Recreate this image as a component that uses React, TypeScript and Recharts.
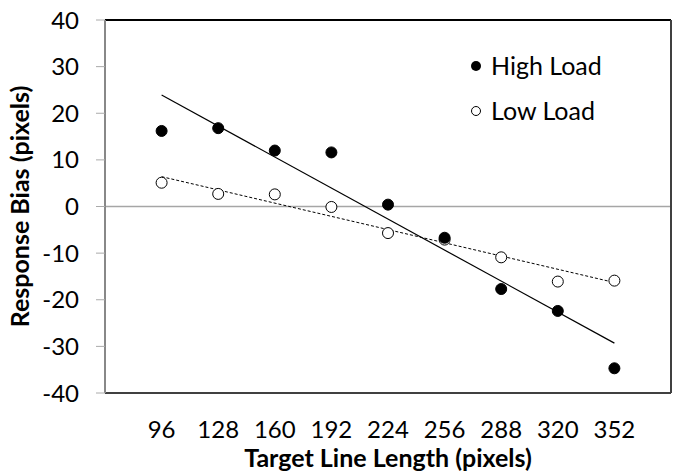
import React from "react";
import {
  ComposedChart,
  Scatter,
  XAxis,
  YAxis,
  ReferenceLine,
  Label,
} from "recharts";

const lengths = [96, 128, 160, 192, 224, 256, 288, 320, 352];
const highLoad = [16.2, 16.8, 12.0, 11.6, 0.4, -6.7, -17.7, -22.4, -34.7];
const lowLoad = [5.1, 2.7, 2.6, -0.1, -5.7, -7.1, -10.9, -16.1, -15.9];
const trendX = [96, 352];
const highTrend = [23.9, -29.3];
const lowTrend = [6.4, -16.3];
const yTicks = [-40, -30, -20, -10, 0, 10, 20, 30, 40];
const seriesNames = ["High Load", "Low Load"];

const highData = lengths.map((x, i) => ({ x, y: highLoad[i] }));
const lowData = lengths.map((x, i) => ({ x, y: lowLoad[i] }));
const highTrendData = trendX.map((x, i) => ({ x, y: highTrend[i] }));
const lowTrendData = trendX.map((x, i) => ({ x, y: lowTrend[i] }));

const FONT = "Lato, 'Open Sans', sans-serif";

const FilledDot = (props: any) => (
  <circle cx={props.cx} cy={props.cy} r={5.5} fill="#000" stroke="#000" />
);
const OpenDot = (props: any) => (
  <circle cx={props.cx} cy={props.cy} r={5.5} fill="#fff" stroke="#000" strokeWidth={1} />
);
const NoDot = () => <g />;

const LegendBox = () => (
  <svg
    width={200}
    height={80}
    style={{ position: "absolute", left: 465, top: 47, display: "block" }}
  >
    <circle cx={11} cy={19} r={5} fill="#000" />
    <text x={26} y={28} fontSize={25} fontFamily={FONT} fill="#000">
      {seriesNames[0]}
    </text>
    <circle cx={11} cy={64} r={4.5} fill="#fff" stroke="#000" strokeWidth={1} />
    <text x={26} y={73} fontSize={25} fontFamily={FONT} fill="#000">
      {seriesNames[1]}
    </text>
  </svg>
);

export default function App() {
  return (
    <div style={{ position: "absolute", left: 0, top: 0, width: 682, height: 476, background: "#fff" }}>
      <ComposedChart
        width={682}
        height={476}
        margin={{ top: 20, right: 11, left: 0, bottom: 0 }}
      >
        <XAxis
          type="number"
          dataKey="x"
          domain={[64, 384]}
          ticks={lengths}
          allowDataOverflow
          axisLine={{ stroke: "#404040", strokeWidth: 2 }}
          tickLine={false}
          tickMargin={22}
          height={83}
          tick={{ fontSize: 24, fontFamily: FONT, fill: "#000" }}
        >
          <Label
            value="Target Line Length (pixels)"
            position="insideBottom"
            offset={9}
            style={{ fontSize: 25, fontFamily: FONT, fontWeight: 700, fill: "#000" }}
          />
        </XAxis>
        <YAxis
          type="number"
          dataKey="y"
          domain={[-40, 40]}
          ticks={yTicks}
          allowDataOverflow
          width={105}
          axisLine={{ stroke: "#888", strokeWidth: 2 }}
          tickLine={{ stroke: "#aaa" }}
          tickSize={9}
          tickMargin={17}
          tick={{ fontSize: 24, fontFamily: FONT, fill: "#000" }}
        >
          <Label
            value="Response Bias (pixels)"
            angle={-90}
            position="insideLeft"
            offset={20}
            style={{
              fontSize: 25,
              fontFamily: FONT,
              fontWeight: 700,
              fill: "#000",
              textAnchor: "middle",
            }}
          />
        </YAxis>
        <ReferenceLine y={0} stroke="#a6a6a6" strokeWidth={1.5} />
        <ReferenceLine y={40} stroke="#000" strokeWidth={2} />
        <ReferenceLine x={384} stroke="#404040" strokeWidth={2} />
        <Scatter
          data={highTrendData}
          line={{ stroke: "#000", strokeWidth: 1.2 }}
          shape={NoDot}
          isAnimationActive={false}
          legendType="none"
        />
        <Scatter
          data={lowTrendData}
          line={{ stroke: "#000", strokeWidth: 1, strokeDasharray: "3 2" }}
          shape={NoDot}
          isAnimationActive={false}
          legendType="none"
        />
        <Scatter
          name={seriesNames[1]}
          data={lowData}
          shape={OpenDot}
          isAnimationActive={false}
        />
        <Scatter
          name={seriesNames[0]}
          data={highData}
          shape={FilledDot}
          isAnimationActive={false}
        />
      </ComposedChart>
      <LegendBox />
    </div>
  );
}
